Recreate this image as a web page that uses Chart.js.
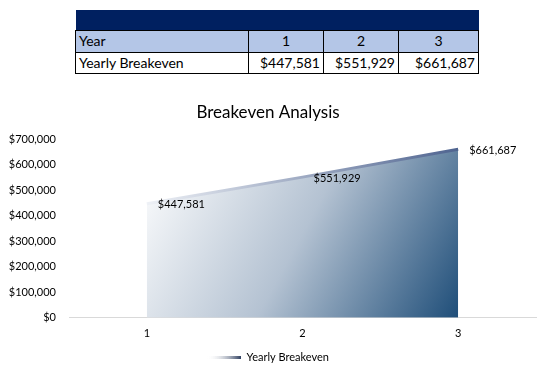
<!DOCTYPE html>
<html><head><meta charset="utf-8">
<script src="https://cdn.jsdelivr.net/npm/chart.js@4"></script>
<style>
html,body{margin:0;padding:0;background:#fff;width:537px;height:384px;overflow:hidden;font-family:Lato,"Open Sans",sans-serif;}
#tbl{position:absolute;left:75px;top:10px;border-collapse:collapse;font-size:14px;color:#000;table-layout:fixed;}
#tbl td{border:1px solid #000;padding:0 3px;height:20px;line-height:20px;box-sizing:border-box;}
#tbl tr.head td{background:#002060;border:none;height:20px;}
#tbl tr.year td{background:#b4c6e7;height:22px;}
#tbl td.n{text-align:right;}
#tbl td.c{text-align:center;}
#wrap{position:absolute;left:0;top:90px;width:537px;height:294px;}
</style></head>
<body>
<table id="tbl">
<colgroup><col style="width:173px"><col style="width:75px"><col style="width:75px"><col style="width:80px"></colgroup>
<tr class="head"><td></td><td></td><td></td><td></td></tr>
<tr class="year"><td>Year</td><td class="c">1</td><td class="c">2</td><td class="c">3</td></tr>
<tr><td>Yearly Breakeven</td><td class="n">$447,581</td><td class="n">$551,929</td><td class="n">$661,687</td></tr>
</table>
<div id="wrap"><canvas id="c" width="537" height="294"></canvas></div>
<script>
const years = ["1","2","3"];
const breakeven = [447581, 551929, 661687];
const seriesName = "Yearly Breakeven";
const chartTitle = "Breakeven Analysis";

const fmt = v => "$" + v.toLocaleString("en-US");
const FONT = "Lato";

const sw = document.createElement("canvas");
sw.width = 34; sw.height = 3;
(function(){
  const g = sw.getContext("2d");
  const gr = g.createLinearGradient(0,0,34,0);
  gr.addColorStop(0,"rgba(255,255,255,0)");
  gr.addColorStop(1,"#2f3f5f");
  g.fillStyle = gr; g.fillRect(0,0,34,3);
})();

const labelPlugin = {
  id:"vlabels",
  afterDatasetsDraw(chart){
    const ctx = chart.ctx;
    const meta = chart.getDatasetMeta(0);
    ctx.save();
    ctx.font = "11px " + FONT;
    ctx.fillStyle = "#000";
    ctx.textAlign = "left";
    ctx.textBaseline = "middle";
    meta.data.forEach((p,i)=>{
      ctx.fillText(fmt(chart.data.datasets[0].data[i]), p.x + 11, p.y + 1);
    });
    ctx.restore();
  }
};

function ok(...v){return v.every(Number.isFinite);}

new Chart(document.getElementById("c"), {
  type:"line",
  data:{
    labels: years,
    datasets:[{
      label: seriesName,
      data: breakeven,
      fill: "origin",
      borderWidth: 3,
      pointRadius: 0,
      tension: 0,
      borderColor(ctx){
        const ch = ctx.chart, a = ch.chartArea, sx = ch.scales.x;
        if(!a || !sx) return "#4f6490";
        const x0 = sx.getPixelForValue(0), x1 = sx.getPixelForValue(years.length-1);
        if(!ok(x0,x1)) return "#4f6490";
        const g = ch.ctx.createLinearGradient(x0,0,x1,0);
        g.addColorStop(0,"#eef1f6");
        g.addColorStop(1,"#4f6490");
        return g;
      },
      backgroundColor(ctx){
        const ch = ctx.chart, a = ch.chartArea, sx = ch.scales.x, sy = ch.scales.y;
        if(!a || !sx || !sy) return "#8aa0bd";
        const x0 = sx.getPixelForValue(0), x1 = sx.getPixelForValue(years.length-1);
        const yTop = sy.getPixelForValue(Math.max(...breakeven));
        if(!ok(x0,x1,yTop,a.bottom)) return "#8aa0bd";
        const g = ch.ctx.createLinearGradient(x0,yTop,x1,a.bottom);
        g.addColorStop(0,"#ffffff");
        g.addColorStop(0.5,"#b4c2d2");
        g.addColorStop(1,"#1f4e79");
        return g;
      }
    }]
  },
  options:{
    responsive:false,
    animation:false,
    layout:{padding:{left:0,right:1,top:0,bottom:11}},
    plugins:{
      title:{display:true,text:chartTitle,color:"#000",font:{family:FONT,size:17,weight:"normal"},padding:{top:12,bottom:17}},
      legend:{
        position:"bottom",
        labels:{
          usePointStyle:true,
          pointStyleWidth:34,
          boxHeight:3,
          color:"#000",
          font:{family:FONT,size:11},
          padding:3,
          generateLabels(chart){
            return [{text:seriesName,pointStyle:sw,datasetIndex:0,lineWidth:0,fontColor:"#000",strokeStyle:"transparent",fillStyle:"transparent"}];
          }
        }
      },
      tooltip:{enabled:false}
    },
    scales:{
      x:{
        offset:true,
        grid:{display:false,drawTicks:false},
        border:{display:true,color:"#d9d9d9",width:1},
        ticks:{color:"#000",font:{family:FONT,size:11},padding:9}
      },
      y:{
        min:0,max:700000,
        afterFit(s){s.width = 69;},
        grid:{display:false,drawTicks:false},
        border:{display:false},
        ticks:{stepSize:100000,color:"#000",font:{family:FONT,size:11},padding:13,callback:v=>fmt(v)}
      }
    }
  },
  plugins:[labelPlugin]
});
</script>
</body></html>
